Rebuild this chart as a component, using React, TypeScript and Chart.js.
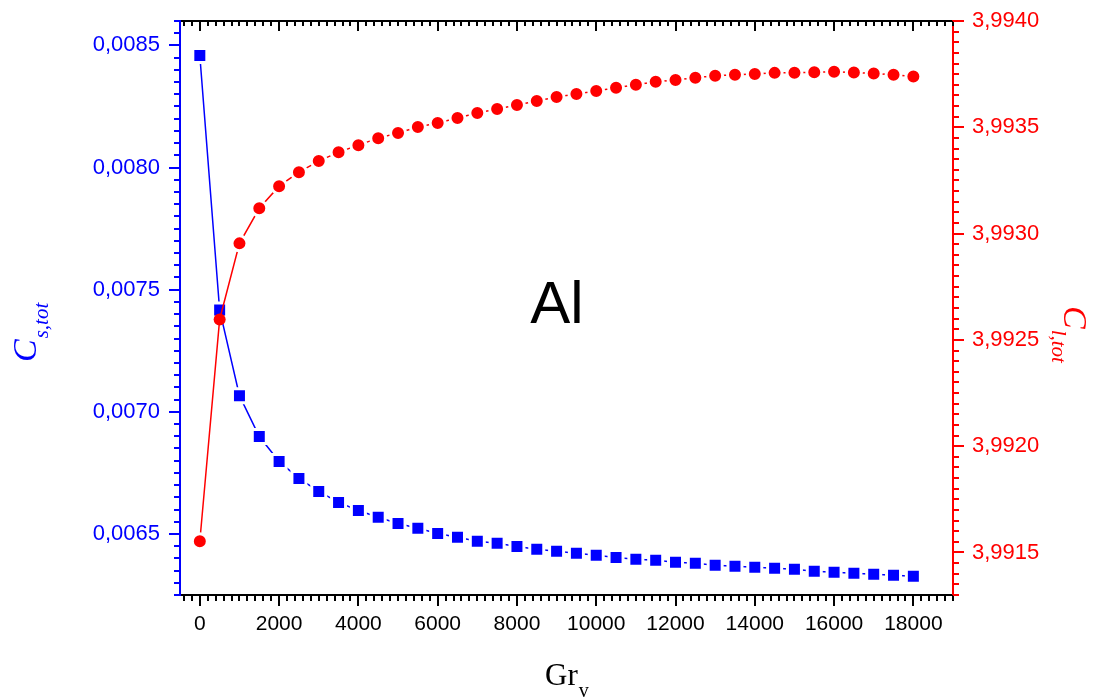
import React, { useEffect, useRef } from 'react';
import { Chart, registerables } from 'chart.js';

Chart.register(...registerables);

// Grashof number values (x)
const grV = [
  0, 500, 1000, 1500, 2000, 2500, 3000, 3500, 4000, 4500,
  5000, 5500, 6000, 6500, 7000, 7500, 8000, 8500, 9000, 9500,
  10000, 10500, 11000, 11500, 12000, 12500, 13000, 13500, 14000, 14500,
  15000, 15500, 16000, 16500, 17000, 17500, 18000,
];

// C_s,tot (left axis, blue squares)
const cSolid = [
  0.008459, 0.007417, 0.007066, 0.006899, 0.006797, 0.006727, 0.006674, 0.006629, 0.006596, 0.006568,
  0.006543, 0.006523, 0.006502, 0.006486, 0.006470, 0.006462, 0.006449, 0.006437, 0.006429, 0.006421,
  0.006413, 0.006404, 0.006396, 0.006392, 0.006384, 0.006380, 0.006372, 0.006368, 0.006364, 0.006360,
  0.006355, 0.006347, 0.006343, 0.006339, 0.006335, 0.006331, 0.006327,
];

// C_l,tot (right axis, red circles)
const cLiquid = [
  3.991553, 3.992596, 3.992954, 3.993119, 3.993223, 3.993289, 3.993341, 3.993383, 3.993416, 3.993449,
  3.993473, 3.993501, 3.993520, 3.993544, 3.993567, 3.993586, 3.993605, 3.993624, 3.993643, 3.993657,
  3.993671, 3.993686, 3.993700, 3.993714, 3.993723, 3.993733, 3.993742, 3.993747, 3.993751, 3.993756,
  3.993757, 3.993759, 3.993761, 3.993758, 3.993753, 3.993747, 3.993739,
];

const xTickValues = [0, 2000, 4000, 6000, 8000, 10000, 12000, 14000, 16000, 18000];
const leftTickValues = [0.0065, 0.007, 0.0075, 0.008, 0.0085];
const rightTickValues = [3.9915, 3.992, 3.9925, 3.993, 3.9935, 3.994];

const BLUE = '#0000ff';
const RED = '#ff0000';

const fmt4 = (v: number) => v.toFixed(4).replace('.', ',');

const originTicks = {
  id: 'originTicks',
  afterDraw(chart: any) {
    const { ctx, chartArea: a, scales } = chart;
    ctx.save();
    ctx.lineWidth = 2;
    const seg = (x1: number, y1: number, x2: number, y2: number) => {
      ctx.beginPath();
      ctx.moveTo(x1, y1);
      ctx.lineTo(x2, y2);
      ctx.stroke();
    };
    const xs = scales.x;
    ctx.strokeStyle = '#000';
    for (let k = Math.ceil(xs.min / 200); k <= Math.floor(xs.max / 200); k++) {
      const px = Math.round(xs.getPixelForValue(k * 200));
      const major = k % 10 === 0;
      seg(px, a.bottom, px, a.bottom + (major ? 11 : 6));
      seg(px, a.top, px, a.top + (major ? 10 : 5));
    }
    const yl = scales.yL;
    ctx.strokeStyle = BLUE;
    for (let k = Math.ceil(yl.min / 0.00005 - 1e-6); k <= Math.floor(yl.max / 0.00005 + 1e-6); k++) {
      const py = Math.round(yl.getPixelForValue(k * 0.00005));
      const major = k % 10 === 0;
      seg(a.left, py, a.left - (major ? 11 : 6), py);
    }
    const yr = scales.yR;
    ctx.strokeStyle = RED;
    for (let k = Math.ceil(yr.min / 0.00005 - 1e-6); k <= Math.floor(yr.max / 0.00005 + 1e-6); k++) {
      const py = Math.round(yr.getPixelForValue(k * 0.00005));
      const major = k % 10 === 0;
      seg(a.right, py, a.right + (major ? 11 : 6), py);
    }
    ctx.restore();
  },
};

const titles = {
  id: 'titles',
  afterDraw(chart: any) {
    const { ctx } = chart;
    ctx.save();
    ctx.textBaseline = 'alphabetic';
    ctx.fillStyle = '#000';
    ctx.font = '60px "Liberation Sans"';
    ctx.textAlign = 'center';
    ctx.fillText('Al', 557, 323);
    ctx.textAlign = 'left';

    ctx.font = '31px "Liberation Serif"';
    ctx.fillText('Gr', 545, 685);
    const wg = ctx.measureText('Gr').width;
    ctx.font = '20px "Liberation Serif"';
    ctx.fillText('v', 545 + wg + 1, 697);

    ctx.fillStyle = BLUE;
    ctx.save();
    ctx.translate(36, 362);
    ctx.rotate(-Math.PI / 2);
    ctx.font = 'italic 34px "Liberation Serif"';
    ctx.fillText('C', 0, 0);
    let w = ctx.measureText('C').width;
    ctx.font = 'italic 21px "Liberation Serif"';
    ctx.fillText('s,tot', w + 1, 12);
    ctx.restore();

    ctx.fillStyle = RED;
    ctx.save();
    ctx.translate(1064, 306);
    ctx.rotate(Math.PI / 2);
    ctx.font = 'italic 34px "Liberation Serif"';
    ctx.fillText('C', 0, 0);
    w = ctx.measureText('C').width;
    ctx.font = 'italic 21px "Liberation Serif"';
    ctx.fillText('l,tot', w + 1, 12);
    ctx.restore();

    ctx.restore();
  },
};

const noPadY = (s: any) => {
  s.paddingTop = 0;
  s.paddingBottom = 0;
};
const noPadX = (s: any) => {
  s.paddingLeft = 0;
  s.paddingRight = 0;
};

export default function App() {
  const ref = useRef<HTMLCanvasElement | null>(null);

  useEffect(() => {
    if (!ref.current) return;
    Chart.defaults.font.family = '"Liberation Sans", Arial, sans-serif';
    const chart = new Chart(ref.current, {
      type: 'line',
      data: {
        datasets: [
          {
            label: 'C_l,tot',
            data: grV.map((x, i) => ({ x, y: cLiquid[i] })),
            yAxisID: 'yR',
            xAxisID: 'x',
            borderColor: RED,
            borderWidth: 1.5,
            backgroundColor: RED,
            pointStyle: 'circle',
            pointRadius: (c: any) => (c.dataIndex === 1 ? 6 : 7.5),
            pointBorderWidth: (c: any) => (c.dataIndex === 1 ? 0 : 3),
            pointBackgroundColor: RED,
            pointBorderColor: '#ffffff',
            tension: 0,
            fill: false,
          },
          {
            label: 'C_s,tot',
            data: grV.map((x, i) => ({ x, y: cSolid[i] })),
            yAxisID: 'yL',
            xAxisID: 'x',
            borderColor: BLUE,
            borderWidth: 1.5,
            backgroundColor: BLUE,
            pointStyle: 'rect',
            pointRadius: 9.9,
            pointBorderWidth: 3,
            pointBackgroundColor: BLUE,
            pointBorderColor: '#ffffff',
            tension: 0,
            fill: false,
          },
        ],
      },
      options: {
        responsive: false,
        animation: false,
        events: [],
        layout: { padding: 0 },
        plugins: {
          legend: { display: false },
          tooltip: { enabled: false },
        },
        scales: {
          x: {
            type: 'linear',
            position: 'bottom',
            min: -500,
            max: 19000,
            afterBuildTicks: (s: any) => {
              s.ticks = xTickValues.map((v) => ({ value: v }));
            },
            afterFit: (s: any) => {
              s.height = 105;
              noPadX(s);
            },
            ticks: {
              color: '#000',
              font: { size: 21 },
              padding: 17,
              maxRotation: 0,
              autoSkip: false,
              callback: (v: any) => String(v),
            },
            grid: { display: false, drawTicks: false },
            border: { display: true, color: '#000', width: 2 },
          },
          xTop: {
            type: 'linear',
            position: 'top',
            min: -500,
            max: 19000,
            afterFit: (s: any) => {
              s.height = 21;
              noPadX(s);
            },
            ticks: { display: false },
            grid: { display: false, drawTicks: false },
            border: { display: true, color: '#000', width: 2 },
          },
          yL: {
            type: 'linear',
            position: 'left',
            min: 0.00625,
            max: 0.0086,
            afterBuildTicks: (s: any) => {
              s.ticks = leftTickValues.map((v) => ({ value: v }));
            },
            afterFit: (s: any) => {
              s.width = 180;
              noPadY(s);
            },
            ticks: {
              color: BLUE,
              font: { size: 22 },
              padding: 20,
              autoSkip: false,
              callback: (v: any) => fmt4(Number(v)),
            },
            grid: { display: false, drawTicks: false },
            border: { display: true, color: BLUE, width: 2 },
          },
          yR: {
            type: 'linear',
            position: 'right',
            min: 3.9913,
            max: 3.994,
            afterBuildTicks: (s: any) => {
              s.ticks = rightTickValues.map((v) => ({ value: v }));
            },
            afterFit: (s: any) => {
              s.width = 141;
              noPadY(s);
            },
            ticks: {
              color: RED,
              font: { size: 22 },
              padding: 19,
              autoSkip: false,
              callback: (v: any) => fmt4(Number(v)),
            },
            grid: { display: false, drawTicks: false },
            border: { display: true, color: RED, width: 2 },
          },
        },
      },
      plugins: [originTicks, titles],
    } as any);
    return () => chart.destroy();
  }, []);

  return (
    <div style={{ position: 'absolute', left: 0, top: 0, width: 1094, height: 700, background: '#fff' }}>
      <canvas ref={ref} width={1094} height={700} style={{ display: 'block' }} />
    </div>
  );
}
